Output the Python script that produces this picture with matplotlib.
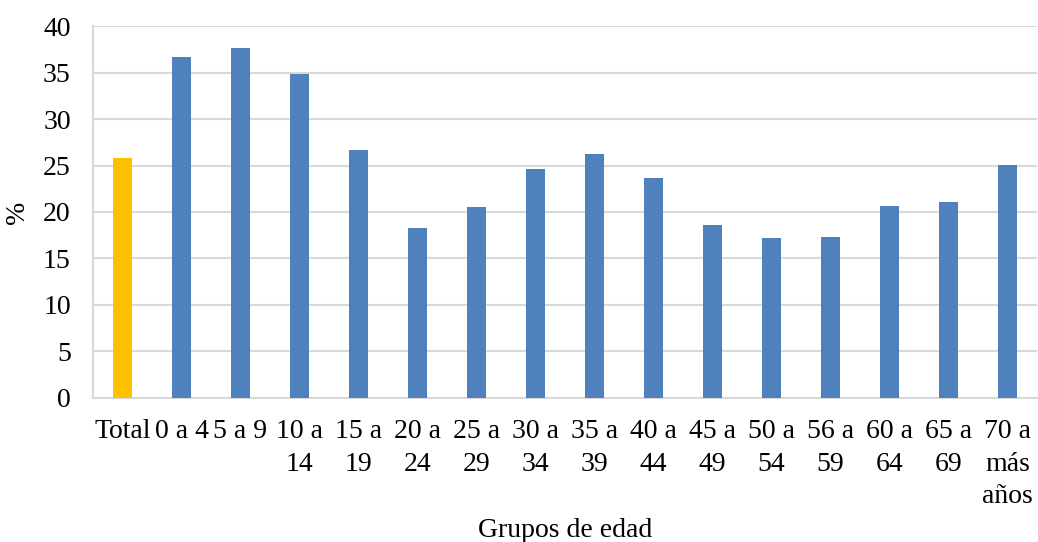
import numpy as np
import matplotlib
matplotlib.use("Agg")
import matplotlib.pyplot as plt

plt.rcParams['font.family'] = ['Liberation Serif', 'DejaVu Serif']

# Percentages by age group
grupos = ["Total", "0 a 4", "5 a 9", "10 a\n14", "15 a\n19", "20 a\n24", "25 a\n29",
          "30 a\n34", "35 a\n39", "40 a\n44", "45 a\n49", "50 a\n54", "56 a\n59",
          "60 a\n64", "65 a\n69", "70 a\nmás\naños"]
valores = [25.8, 36.7, 37.7, 34.9, 26.7, 18.3, 20.5, 24.6, 26.2, 23.7,
           18.6, 17.2, 17.3, 20.6, 21.1, 25.1]
yticks = [0, 5, 10, 15, 20, 25, 30, 35, 40]

azul = '#4F81BD'
dorado = '#FFC000'
gris = '#D9D9D9'

fig = plt.figure(figsize=(10.38, 5.42), dpi=100)
ax = fig.add_axes([0.0896, 0.2664, 0.9094, 0.685])

x = np.arange(len(grupos))
colores = [dorado] + [azul] * (len(grupos) - 1)
ax.bar(x, valores, width=0.32, color=colores, zorder=3)

ax.set_xlim(-0.5, len(grupos) - 0.5)
ax.set_ylim(0, 40)
ax.set_yticks(yticks)
ax.set_xticks(x)
ax.set_xticklabels(grupos, fontsize=20, linespacing=1.4, va='top')
ax.tick_params(axis='y', labelsize=20, length=0, pad=16)
ax.tick_params(axis='x', length=0, pad=15.5)

ax.grid(axis='y', color=gris, linewidth=1.5, zorder=0)
for side in ['top', 'right']:
    ax.spines[side].set_visible(False)
for side in ['left', 'bottom']:
    ax.spines[side].set_color(gris)
    ax.spines[side].set_linewidth(1.5)

fig.text(565 / 1038, 1 - 537 / 542, "Grupos de edad", fontsize=20,
         ha='center', va='baseline')
fig.text(18 / 1038, 1 - 212 / 542, "%", fontsize=20, rotation=90,
         ha='center', va='center')

fig.savefig("out.png", dpi=100)
